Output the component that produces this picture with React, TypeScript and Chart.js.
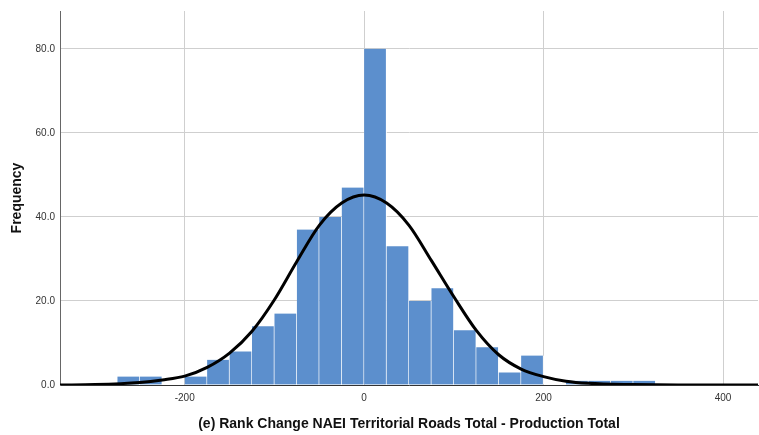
import React, { useEffect, useRef } from "react";
import { Chart, registerables } from "chart.js";

Chart.register(...registerables);

// Histogram bins (bin width 25), bin centres and counts
const binCenters = [
  -262.5, -237.5, -212.5, -187.5, -162.5, -137.5, -112.5, -87.5, -62.5, -37.5, -12.5,
  12.5, 37.5, 62.5, 87.5, 112.5, 137.5, 162.5, 187.5, 212.5, 237.5, 262.5, 287.5, 312.5,
];
const counts = [
  2, 2, 0, 2, 6, 8, 14, 17, 37, 40, 47,
  80, 33, 20, 23, 13, 9, 3, 7, 0, 1, 1, 1, 1,
];

// Fitted normal curve
const curveX = [
  -339, -300, -250, -225, -200, -175, -150, -125, -100, -75, -50, -25, 0,
  25, 50, 75, 100, 125, 150, 175, 200, 225, 250, 300, 350, 439,
];
const curveY = [
  0, 0.1, 0.6, 1.2, 2.1, 4.2, 7.6, 12.8, 20.3, 29.4, 38.0, 43.3, 45.2,
  43.3, 38.0, 29.6, 21.0, 13.0, 7.2, 3.8, 2.0, 0.9, 0.4, 0.1, 0, 0,
];

const xTicks = [-200, 0, 200, 400];
const yTicks = [0, 20, 40, 60, 80];

const X_MIN = -339;
const X_MAX = 439;
const Y_MAX = 89;

export default function App() {
  const ref = useRef<HTMLCanvasElement | null>(null);

  useEffect(() => {
    if (!ref.current) return;
    const font = "'Liberation Sans', Arial, sans-serif";
    const chart = new Chart(ref.current, {
      type: "bar",
      data: {
        datasets: [
          {
            type: "line",
            data: curveX.map((x, i) => ({ x, y: curveY[i] })),
            borderColor: "#000000",
            borderWidth: 3,
            pointRadius: 0,
            cubicInterpolationMode: "monotone",
            fill: false,
            order: 0,
          } as any,
          {
            type: "bar",
            data: binCenters.map((x, i) => ({ x, y: counts[i] })),
            backgroundColor: "#5c8fcd",
            borderColor: "#ffffff",
            borderWidth: { left: 0, right: 1, top: 0, bottom: 0 },
            borderSkipped: false,
            barPercentage: 1,
            categoryPercentage: 1,
            order: 1,
          } as any,
        ],
      },
      options: {
        animation: false,
        responsive: false,
        maintainAspectRatio: false,
        layout: { padding: { left: 0, right: 1, top: 10, bottom: 0 } },
        plugins: { legend: { display: false }, tooltip: { enabled: false } },
        scales: {
          x: {
            type: "linear",
            min: X_MIN,
            max: X_MAX,
            offset: false,
            afterBuildTicks: (axis: any) => {
              axis.ticks = xTicks.map((v) => ({ value: v }));
            },
            afterFit: (scale: any) => {
              scale.height = 50;
            },
            grid: {
              color: "#cfcfcf",
              lineWidth: 1,
              drawTicks: false,
              offset: false,
            },
            border: { color: "#333333", width: 1 },
            ticks: {
              padding: 7,
              color: "#333333",
              font: { family: font, size: 10 },
              callback: (v: any) => String(v),
            },
            title: {
              display: true,
              text: "(e) Rank Change NAEI Territorial Roads Total - Production Total",
              color: "#111111",
              font: { family: font, size: 14, weight: "bold" },
              padding: { top: 0, bottom: 2 },
            },
          },
          y: {
            type: "linear",
            min: 0,
            max: Y_MAX,
            afterBuildTicks: (axis: any) => {
              axis.ticks = yTicks.map((v) => ({ value: v }));
            },
            afterFit: (scale: any) => {
              scale.width = 60;
            },
            grid: {
              color: "#cfcfcf",
              lineWidth: 1,
              drawTicks: false,
            },
            border: { color: "#666666", width: 1 },
            ticks: {
              padding: 5,
              color: "#333333",
              font: { family: font, size: 10 },
              callback: (v: any) => Number(v).toFixed(1),
            },
            title: {
              display: true,
              text: "Frequency",
              color: "#111111",
              font: { family: font, size: 14, weight: "bold" },
              padding: { top: 9, bottom: 0 },
            },
          },
        },
      },
    });
    return () => chart.destroy();
  }, []);

  return (
    <div style={{ position: "fixed", left: 0, top: 0, width: 759, height: 435, background: "#ffffff" }}>
      <canvas ref={ref} width={759} height={435} style={{ width: 759, height: 435, display: "block" }} />
    </div>
  );
}
